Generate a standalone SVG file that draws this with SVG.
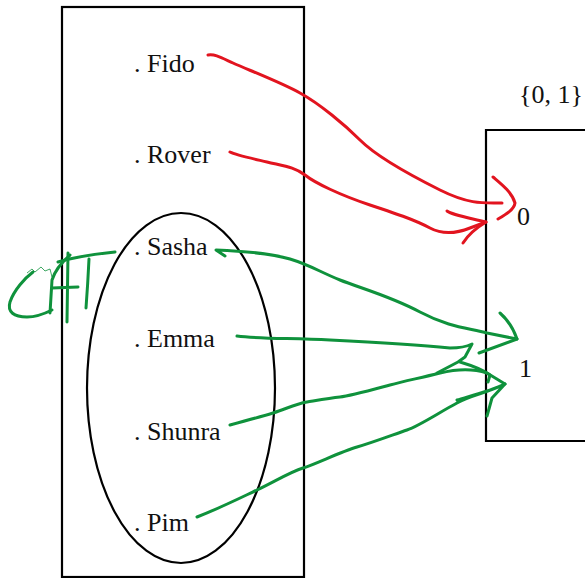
<svg xmlns="http://www.w3.org/2000/svg" width="585" height="578" viewBox="0 0 585 578">
<style>
.lbl{font-family:"Liberation Serif","Times New Roman",serif;font-size:26px;fill:#111}
.box{fill:none;stroke:#000;stroke-width:2.2}
.red{fill:none;stroke:#e2141f;stroke-width:3;stroke-linecap:round;stroke-linejoin:round}
.grn{fill:none;stroke:#0f923c;stroke-width:3;stroke-linecap:round;stroke-linejoin:round}
.thin{fill:none;stroke:#0f923c;stroke-width:0.8}
</style>
<rect width="585" height="578" fill="#fff"/>
<g id="domain">
<rect class="box" x="62" y="7" width="242" height="570"/>
</g>
<g id="subset">
<ellipse class="box" cx="181" cy="388" rx="94" ry="175"/>
</g>
<g id="codomain">
<path class="box" d="M590,130 H486 V441 H590"/>
<text class="lbl" x="519" y="103">{0, 1}</text>
</g>
<g id="n-fido"><text class="lbl" x="134" y="72">. Fido</text></g>
<g id="n-rover"><text class="lbl" x="134" y="163">. Rover</text></g>
<g id="n-sasha"><text class="lbl" x="134" y="255">. Sasha</text></g>
<g id="n-emma"><text class="lbl" x="134" y="347">. Emma</text></g>
<g id="n-shunra"><text class="lbl" x="134" y="440">. Shunra</text></g>
<g id="n-pim"><text class="lbl" x="134" y="531">. Pim</text></g>
<g id="n-zero"><text class="lbl" x="517" y="225">0</text></g>
<g id="n-one"><text class="lbl" x="519" y="377">1</text></g>
<g id="connectors">
<path class="red" d="M208,55 C215,54 220,57 233,63 S280,82 300,93 S345,125 360,140 S410,175 440,190 S485,203 502,203"/>
<path class="red" d="M493,177 C500,183 512,192 515,203 C514,210 505,215 498,219"/>
<path class="red" d="M230,152 C236,155 250,158 267,162 S295,167 305,175 S340,195 370,205 S415,220 430,228 S460,232 470,228 L486,222"/>
<path class="red" d="M447,211 C452,215 470,218 486,222 M463,243 C468,235 476,228 486,222"/>
<path class="grn" d="M225,256 L216,250 C240,251 270,253 290,259 S320,272 340,280 S390,296 420,312 S470,328 487,333 L517,339"/>
<path class="grn" d="M500,313 C508,320 514,330 517,339 L479,353"/>
<path class="grn" d="M237,336 C260,339 290,338 330,340 S420,345 450,348 C460,348 468,346 472,344 L465,357 L458,362 L437,373 M460,362 C470,365 482,369 490,375 L488,382"/>
<path class="grn" d="M230,425 C245,421 260,417 273,413 S295,404 307,402 S330,398 340,397 S375,389 390,385 S420,378 440,373 S475,369 487,373 L505,384"/>
<path class="grn" d="M197,517 C220,508 240,498 257,490 S290,472 303,468 S340,452 357,447 S395,434 407,430 S440,412 457,403 S485,394 505,384 L492,398 L487,416 M457,400 C470,396 490,391 505,384"/>
<path class="grn" d="M115,252 C95,254 75,257 58,262"/>
<path class="grn" d="M33,272 C25,278 14,290 10,302 C7,312 14,317 27,317 C37,317 46,313 52,310"/>
<path class="grn" d="M70,255 C62,262 55,270 52,280 L50,313"/>
<path class="grn" d="M68,253 L67,322 M52,288 L78,287 M89,259 C88,280 87,295 86,308"/>
<path class="thin" d="M27,273 l5,-4 l3,3 l6,-5 l4,4 l5,-2 l2,8"/>
</g>
</svg>
